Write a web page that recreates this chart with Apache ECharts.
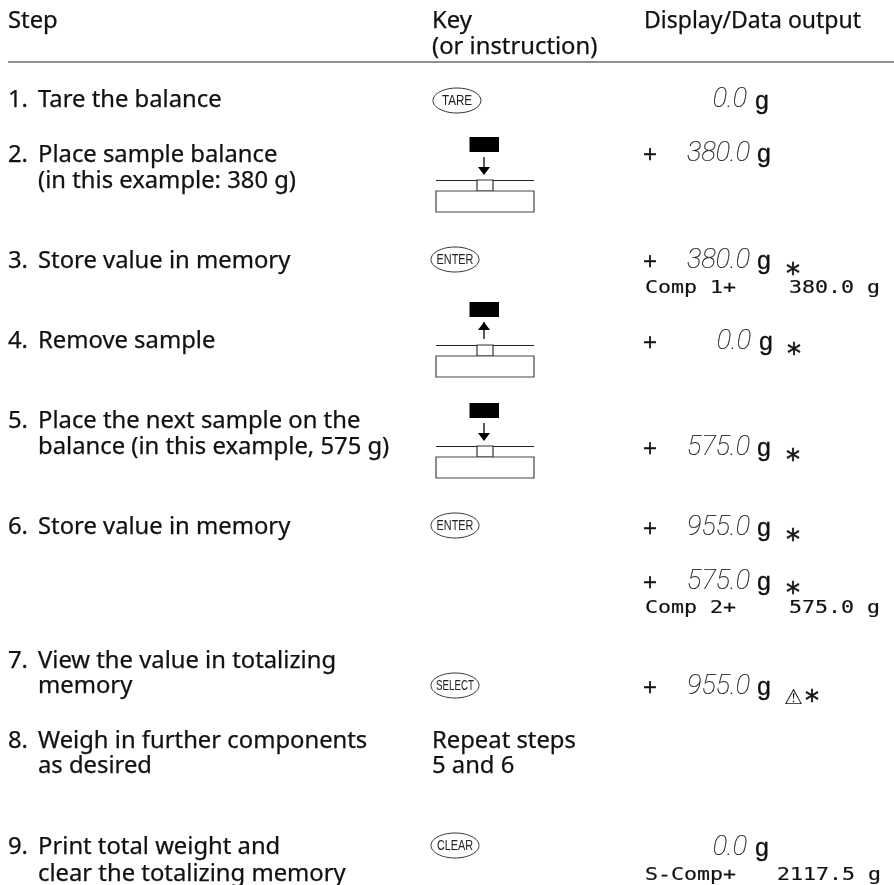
<!DOCTYPE html>
<html>
<head>
<meta charset="utf-8">
<style>
  html, body { margin: 0; padding: 0; background: #fff; }
  #chart { width: 894px; height: 885px; }
</style>
</head>
<body>
<div id="chart"></div>
<script src="https://cdn.jsdelivr.net/npm/echarts@6/dist/echarts.min.js"></script>
<script>
// table content
const headers = ['Step', 'Key', '(or instruction)', 'Display/Data output'];
const stepNumbers = ['1.', '2.', '3.', '4.', '5.', '6.', '7.', '8.', '9.'];
const stepTexts = ['Tare the balance', 'Place sample balance', '(in this example: 380 g)', 'Store value in memory',
  'Remove sample', 'Place the next sample on the', 'balance (in this example, 575 g)', 'Store value in memory',
  'View the value in totalizing', 'memory', 'Weigh in further components', 'as desired',
  'Print total weight and', 'clear the totalizing memory'];
const keyLabels = ['TARE', 'ENTER', 'ENTER', 'SELECT', 'CLEAR'];
const repeatText = ['Repeat steps', '5 and 6'];
const displayValues = ['0.0', '380.0', '380.0', '0.0', '575.0', '955.0', '575.0', '955.0', '0.0'];
const printNames = ['Comp 1+', 'Comp 2+', 'S-Comp+'];
const printValues = ['380.0 g', '575.0 g', '2117.5 g'];

// layout, all in px
const SANS = '"Noto Sans"';
const UNIT = '"Liberation Sans"';
const MONO = '"DejaVu Sans Mono"';
const SIZE = 23;
const WIDEN = 1.035;
const stepNumberY = [100, 155, 261, 341, 421, 527, 661, 741, 847];
const stepTextY = [100, 155, 181, 261, 341, 421, 447, 527, 661, 686, 741, 766, 847, 874];
const keyPos = [[457, 100.5], [455, 259.5], [455, 525.5], [455, 685.5], [455, 845.5]];
const keyScale = [0.75, 0.7, 0.7, 0.63, 0.7];
const balancePos = [[180, 1], [345, -1], [446, 1]];
const displayPos = [[747, 100], [750, 154], [750, 261], [751, 342], [750, 448], [750, 528], [750, 582], [750, 687], [747, 848]];
const gX = [[755, 102], [757, 155], [757, 262], [759, 343], [757, 449], [757, 529], [757, 583], [757, 688], [755, 849]];
const plusY = [155, 262, 343, 449, 529, 583, 688];
const starPos = [[786, 276], [787, 356], [786, 462], [786, 542], [786, 595], [805, 703]];
const printY = [288, 608, 875];
const printValueX = [789, 789, 777];

const elements = [];

function addText(text, x, y, font, opts) {
  const extra = opts || {};
  elements.push({
    type: 'text',
    x: x,
    y: y,
    scaleX: extra.scaleX || 1,
    style: {
      text: text,
      font: font,
      fill: extra.fill || '#111',
      stroke: extra.stroke ? '#111' : null,
      lineWidth: extra.stroke || 0,
      textAlign: extra.align || 'left',
      textVerticalAlign: 'middle'
    }
  });
}

function addBody(text, x, y) {
  addText(text, x, y, SIZE + 'px ' + SANS, { scaleX: WIDEN, stroke: 0.25 });
}

function addLine(x1, y1, x2, y2, width) {
  elements.push({
    type: 'line',
    shape: { x1: x1, y1: y1, x2: x2, y2: y2 },
    style: { stroke: '#222', lineWidth: width }
  });
}

// 天平小图
function addBalance(lineY, dir) {
  const top = lineY - 43;
  elements.push({ type: 'rect', shape: { x: 469.5, y: top, width: 29.5, height: 15 }, style: { fill: '#000' } });
  addLine(484, top + 20, 484, top + 37, 1.5);
  const tipY = dir > 0 ? top + 38 : top + 20;
  const baseY = dir > 0 ? top + 30 : top + 28;
  elements.push({
    type: 'polygon',
    shape: { points: [[484, tipY], [478, baseY], [490, baseY]] },
    style: { fill: '#000' }
  });
  addLine(436, lineY + 0.5, 534, lineY + 0.5, 1);
  elements.push({ type: 'rect', shape: { x: 477, y: lineY, width: 16, height: 11 }, style: { fill: '#fff', stroke: '#333', lineWidth: 1.2 } });
  elements.push({ type: 'rect', shape: { x: 436, y: lineY + 11, width: 98, height: 21 }, style: { fill: '#fff', stroke: '#444', lineWidth: 1.2 } });
}

// header
addBody(headers[0], 8, 21);
addBody(headers[1], 432, 21);
addBody(headers[2], 432, 47);
addText(headers[3], 644, 21, SIZE + 'px ' + SANS, { stroke: 0.25 });
addLine(8, 62, 894, 62, 1);

// step column
stepNumbers.forEach(function (n, i) { addBody(n, 8, stepNumberY[i]); });
stepTexts.forEach(function (t, i) { addBody(t, 38, stepTextY[i]); });

// key column
keyLabels.forEach(function (k, i) {
  const p = keyPos[i];
  elements.push({ type: 'ellipse', shape: { cx: p[0], cy: p[1], rx: 24, ry: 12.5 }, style: { fill: '#fff', stroke: '#333', lineWidth: 1 } });
  addText(k, p[0], p[1], '15.5px ' + UNIT, { scaleX: keyScale[i], align: 'center', fill: '#222' });
});
balancePos.forEach(function (b) { addBalance(b[0], b[1]); });
addBody(repeatText[0], 432, 741);
addBody(repeatText[1], 432, 766);

// display column
displayValues.forEach(function (v, i) {
  const p = displayPos[i];
  addText(v, p[0], p[1], 'italic 100 27px Roboto', { align: 'right', stroke: 0.2 });
  addText('g', gX[i][0], gX[i][1], '25px ' + UNIT, { stroke: 0.3 });
});
plusY.forEach(function (y) { addText('+', 643, y, '24px ' + UNIT, { stroke: 0.3 }); });
starPos.forEach(function (p) { addText('*', p[0], p[1], '28px "DejaVu Sans"', { stroke: 0.5 }); });
addText('⚠', 784, 699, '21px "DejaVu Sans"');

printNames.forEach(function (n, i) {
  addText(n, 645, printY[i], '18px ' + MONO, { scaleX: 1.2, stroke: 0.2 });
  addText(printValues[i], printValueX[i], printY[i], '18px ' + MONO, { scaleX: 1.2, stroke: 0.2 });
});

const chart = echarts.init(document.getElementById('chart'));
chart.setOption({
  animation: false,
  backgroundColor: '#fff',
  graphic: { elements: elements }
});
</script>
</body>
</html>
